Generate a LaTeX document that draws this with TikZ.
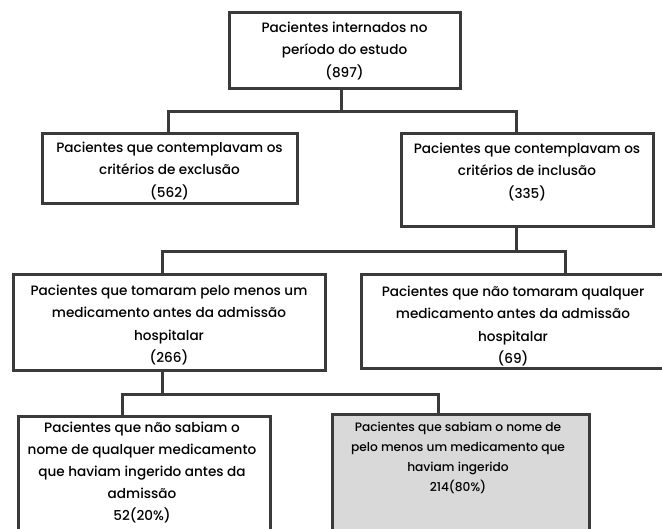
\documentclass[tikz,border=0pt]{standalone}
\usepackage{fontspec}
\setmainfont{Poppins}[UprightFont=* Medium]
\begin{document}
\begin{tikzpicture}[x=1pt,y=-1pt,
  box/.style={draw=linec,line width=3pt,rectangle,inner sep=0pt,outer sep=0pt},
  conn/.style={draw=linec,line width=3pt,line join=miter},
  txt/.style={align=center,inner sep=0pt,font=\fontsize{13.6}{22.5}\selectfont,text=black},
  stxt/.style={align=center,inner sep=0pt,font=\fontsize{12.2}{20}\selectfont,text=black}]
\definecolor{linec}{HTML}{3A3A3A}
\definecolor{grayfill}{HTML}{D9D9D9}
\useasboundingbox (0,0) rectangle (662,528);
\clip (0,0) rectangle (662,528);
\fill[white] (0,0) rectangle (662,528);
% boxes
\node[box,minimum width=231pt,minimum height=76pt] (n1) at (344.5,50) {};
\node[box,minimum width=255pt,minimum height=70pt] (n2) at (169.5,168) {};
\node[box,minimum width=252pt,minimum height=93pt] (n3) at (527,179.5) {};
\node[box,minimum width=312pt,minimum height=96pt] (n4) at (169,322) {};
\node[box,minimum width=306pt,minimum height=94pt] (n5) at (514,321) {};
\node[box,minimum width=252pt,minimum height=130pt] (n6) at (144,481) {};
\node[box,fill=grayfill,minimum width=257pt,minimum height=130pt] (n7) at (460.5,479) {};
% texts
\node[txt] (t1) at (344.5,51) {Pacientes internados no\\período do estudo\\(897)};
\node[txt] (t2) at (169.5,171) {Pacientes que contemplavam os\\critérios de exclusão\\(562)};
\node[txt] (t3) at (527,172) {Pacientes que contemplavam os\\critérios de inclusão\\(335)};
\node[txt] (t4) at (169,325) {Pacientes que tomaram pelo menos um\\medicamento antes da admissão\\hospitalar\\(266)};
\node[txt] (t5) at (513,326) {Pacientes que não tomaram qualquer\\medicamento antes da admissão\\hospitalar\\(69)};
\node[txt,font=\fontsize{13.6}{22}\selectfont] (t6) at (142,473) {Pacientes que não sabiam o\\nome de qualquer medicamento\\que haviam ingerido antes da\\admissão\\52(20\%)};
\node[stxt] (t7) at (458,458) {Pacientes que sabiam o nome de\\pelo menos um medicamento que\\haviam ingerido\\214(80\%)};
% junctions
\coordinate (j1) at (341,111);
\coordinate (a1) at (168,111);
\coordinate (b1) at (516,111);
\coordinate (j2) at (516,251);
\coordinate (a2) at (162,251);
\coordinate (b2) at (565,251);
\coordinate (j3) at (162,394);
\coordinate (a3) at (122,394);
\coordinate (b3) at (438,394);
% connectors
\draw[conn] (n1.south -| j1) -- (j1);
\draw[conn] (a1 |- n2.north) -- (a1) -- (b1) -- (b1 |- n3.north);
\draw[conn] (n3.south -| j2) -- (j2);
\draw[conn] (a2 |- n4.north) -- (a2) -- (b2) -- (b2 |- n5.north);
\draw[conn] (n4.south -| j3) -- (j3);
\draw[conn] (a3 |- n6.north) -- (a3) -- (b3) -- (b3 |- n7.north);
\end{tikzpicture}
\end{document}
